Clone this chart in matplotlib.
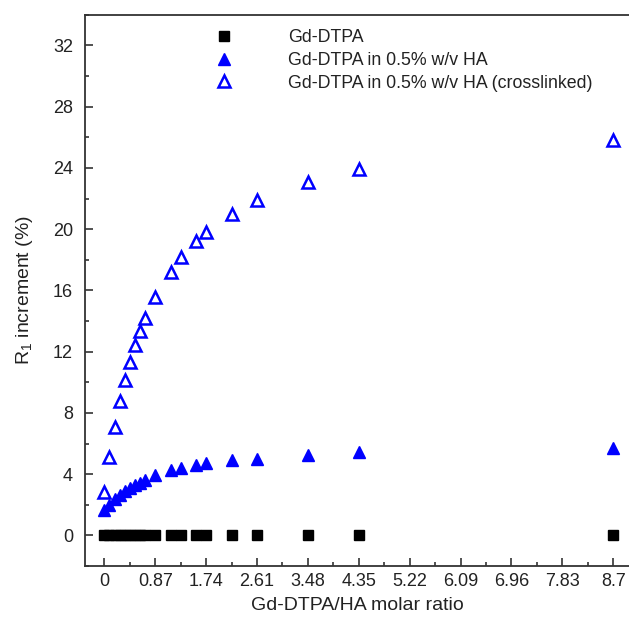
import numpy as np
import matplotlib
matplotlib.use("Agg")
import matplotlib.pyplot as plt
from matplotlib.ticker import MultipleLocator

plt.rcParams['font.family'] = ['Liberation Sans', 'DejaVu Sans']
plt.rcParams['mathtext.default'] = 'regular'

# molar ratio values (multiples of 0.87)
ratio = [0, 0.087, 0.174, 0.261, 0.348, 0.435, 0.522, 0.609, 0.696, 0.87,
         1.131, 1.305, 1.566, 1.74, 2.175, 2.61, 3.48, 4.35, 8.7]
gd_dtpa = [0] * len(ratio)
gd_ha = [1.65, 2.0, 2.35, 2.65, 2.9, 3.1, 3.3, 3.45, 3.6, 3.95,
         4.25, 4.4, 4.6, 4.72, 4.92, 5.02, 5.27, 5.42, 5.72]
gd_ha_xl = [2.8, 5.15, 7.1, 8.75, 10.15, 11.35, 12.45, 13.35, 14.2, 15.6,
            17.2, 18.15, 19.2, 19.8, 21.0, 21.9, 23.1, 23.95, 25.85]

xticks = [0, 0.87, 1.74, 2.61, 3.48, 4.35, 5.22, 6.09, 6.96, 7.83, 8.7]
xticklabels = ['0', '0.87', '1.74', '2.61', '3.48', '4.35', '5.22', '6.09',
               '6.96', '7.83', '8.7']

fig = plt.figure(figsize=(6.29, 6.21), dpi=100)
ax = fig.add_axes([0.135, 0.0886, 0.865, 0.8875])

ax.plot(ratio, gd_dtpa, 's', color='black', markersize=7, linestyle='none',
        label='Gd-DTPA')
ax.plot(ratio, gd_ha, '^', color='#0000ff', markersize=9, linestyle='none',
        label='Gd-DTPA in 0.5% w/v HA')
ax.plot(ratio, gd_ha_xl, '^', color='#0000ff', markerfacecolor='none',
        markeredgewidth=1.8, markersize=8.5, linestyle='none',
        label='Gd-DTPA in 0.5% w/v HA (crosslinked)')

ax.set_xlim(-0.333, 8.97)
ax.set_ylim(-2, 34.0)
ax.set_xticks(xticks)
ax.set_xticklabels(xticklabels)
ax.xaxis.set_minor_locator(MultipleLocator(0.435))
ax.set_yticks(range(0, 33, 4))
ax.yaxis.set_minor_locator(MultipleLocator(2))
ax.tick_params(which='both', direction='in', labelsize=13, width=1.2,
               colors='#333333', labelcolor='#222222')
ax.tick_params(which='major', length=6)
ax.tick_params(which='minor', length=3)
ax.tick_params(axis='x', which='major', pad=5)
ax.tick_params(axis='y', which='major', pad=8.5)
ax.spines['right'].set_visible(False)
for s in ['left', 'top', 'bottom']:
    ax.spines[s].set_linewidth(1.3)
    ax.spines[s].set_color('#333333')

ax.set_xlabel('Gd-DTPA/HA molar ratio', fontsize=14, color='#222222', labelpad=5)
ax.set_ylabel('R$_1$ increment (%)', fontsize=14, color='#222222', labelpad=13)

ax.legend(loc='upper left', bbox_to_anchor=(0.24, 0.974), frameon=False,
          fontsize=12.8, handlelength=1.0, handletextpad=3.1,
          labelspacing=0.32, borderpad=0, borderaxespad=0,
          labelcolor='#222222')

fig.savefig('out.png', dpi=100)
